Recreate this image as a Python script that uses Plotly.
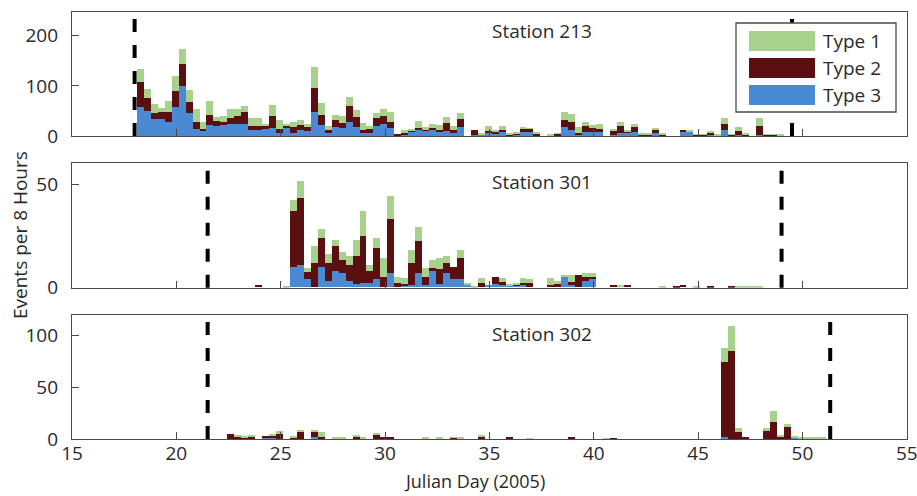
import plotly.graph_objects as go
from plotly.subplots import make_subplots

# ---------------- data (events per 8-hour bin) ----------------
BIN_START = 18.11      # left edge of first 8-hour bin (Julian day)
BIN_WIDTH = 1 / 3      # 8 hours

type_names = ["Type 1", "Type 2", "Type 3"]
type_colors = ["#a9d18e", "#5a1010", "#4a8ad4"]

station_names = ["Station 213", "Station 301", "Station 302"]

s213_type1 = [26, 18, 19, 8, 22, 31, 30, 25, 27, 15, 28, 8, 11, 18, 14, 13, 16, 16, 4, 22,
              18, 1, 10, 10, 6, 42, 24, 9, 10, 14, 18, 15, 13, 6, 10, 14, 19, 0, 7, 2,
              14, 5, 9, 9, 12, 7, 12, 0, 0, 2, 10, 5, 7, 2, 3, 2, 1, 2, 0, 1,
              1, 16, 16, 12, 8, 7, 10, 0, 1, 7, 3, 7, 2, 1, 3, 2, 0, 0, 0, 1,
              1, 1, 3, 1, 11, 1, 7, 2, 0, 16, 1, 1, 1]
s213_type2 = [50, 26, 12, 14, 20, 32, 44, 22, 13, 4, 19, 9, 6, 11, 15, 23, 7, 7, 7, 25,
              8, 6, 12, 9, 7, 48, 19, 6, 14, 10, 32, 20, 7, 8, 16, 16, 13, 2, 3, 4,
              4, 2, 4, 4, 15, 7, 16, 0, 10, 1, 4, 3, 5, 1, 2, 8, 7, 5, 0, 1,
              3, 14, 15, 2, 12, 8, 6, 0, 9, 15, 2, 10, 1, 2, 7, 1, 0, 0, 1, 1,
              1, 1, 5, 1, 12, 1, 8, 2, 0, 18, 1, 1, 1]
s213_type3 = [57, 49, 33, 33, 28, 57, 100, 45, 14, 9, 22, 20, 22, 24, 24, 24, 12, 12, 13, 15,
              5, 15, 5, 12, 10, 47, 22, 5, 17, 15, 27, 17, 5, 5, 19, 24, 15, 0, 2, 7,
              11, 10, 11, 8, 10, 5, 17, 0, 2, 2, 5, 4, 7, 1, 2, 7, 7, 0, 0, 0,
              1, 17, 12, 3, 7, 7, 7, 0, 2, 5, 7, 7, 1, 1, 5, 1, 0, 0, 9, 8,
              1, 1, 2, 0, 12, 1, 2, 1, 0, 1, 1, 1, 0]

s301_type1 = [0] * 17 + [0, 0, 0, 0, 0.5, 5, 8.5, 2, 8, 4, 4, 3, 4, 4, 8, 12, 3, 5, 9,
              11, 3, 3, 6, 6.5, 4.5, 3.5, 5, 3, 0, 4, 0.5, 0.3, 2.6, 0, 0, 2, 0.6, 0.4, 2.6,
              2, 0, 0, 3.6, 1.4, 1, 3.5, 0, 2, 2, 0, 0, 0, 1, 0, 0, 0, 0, 0, 0.5,
              0, 0, 0, 0, 0.5, 0, 0, 0, 0, 0, 0.5, 0.5, 0.5, 0.5]
s301_type2 = [0] * 17 + [1, 0, 0, 0, 0, 27, 32, 3.4, 12, 14, 9, 12, 6, 8, 13.4, 23, 6, 15, 5,
              26, 2, 0.6, 10.7, 15.5, 4, 1.5, 7.4, 5, 6, 10, 0.2, 0, 2, 0, 3.4, 1.2, 0, 0.6, 1,
              2, 0, 0, 1, 1.6, 0, 1.2, 6, 1.7, 1, 0, 0, 1, 0, 1, 0, 0, 0, 0, 0,
              0, 0.5, 1.2, 0, 0, 0, 0.5, 0, 0, 0.5, 0, 0, 0, 0]
s301_type3 = [0] * 17 + [0, 0, 0, 0, 0, 10, 11, 4, 0, 10, 3, 8, 7, 3, 1.6, 2, 2, 4, 0,
              7, 0, 1, 1.3, 7, 1, 8, 1.6, 7, 4, 4, 1.3, 0, 0, 1, 1.6, 1.3, 1, 1, 1,
              0, 0, 0, 0, 0, 5, 1.3, 0, 3.3, 4, 0, 0, 0, 0, 0, 0, 0, 0, 0, 0,
              0, 0, 0, 0, 0, 0, 0, 0, 0, 0, 0, 0, 0, 0]

s302_type1 = [0] * 13 + [0, 1, 2.5, 1, 0, 0, 1, 3, 0, 2, 0.6, 0, 2.2, 5, 0, 1.6, 1.6, 0, 1.4,
              1, 0, 2, 0, 0, 0, 0, 0, 0, 1.6, 0, 1.6, 0, 0.6, 1.6, 0, 0, 2, 0, 0,
              0, 0, 0, 0, 0.5, 0, 0, 0, 0, 0, 0, 0, 0, 0, 0, 0.5, 0, 0, 0, 0,
              0, 0, 0, 0, 0, 0, 0, 0, 0, 0, 0, 0, 13, 24, 4.5, 0, 0, 0, 3.5, 11,
              1.4, 2.5, 1.6, 1, 1, 1, 1]
s302_type2 = [0] * 13 + [5, 2, 0.5, 2, 0, 1, 1.4, 5, 0, 1, 7.4, 0, 4.5, 1.6, 0, 0, 0, 0, 2.6,
              0, 0, 4, 1.6, 1.6, 0, 0, 0, 0, 0, 0, 0, 0, 1, 0, 0, 0, 2, 0, 0,
              0, 1.6, 0, 0, 0, 0, 0, 0, 0, 0, 1, 0, 0, 0, 0, 0, 0.5, 0, 0, 0,
              0, 0, 0, 0, 0, 0, 0, 0, 0, 0, 0, 0, 73, 85, 6.5, 1, 0, 0, 7.5, 16.5,
              2.6, 12, 0, 0, 0, 0, 0]
s302_type3 = [0] * 13 + [0, 0, 0, 0, 0, 1.6, 1.6, 0, 0, 0, 0, 0, 2, 0, 0, 0, 0, 0, 0,
              0, 0, 0, 0, 0, 0, 0, 0, 0, 0, 0, 0, 0, 0, 0, 0, 0, 0, 0, 0,
              0, 0, 0, 0, 0, 0, 0, 0, 0, 0, 0, 0, 0, 0, 0, 0, 0, 0, 0, 0,
              0, 0, 0, 0, 0, 0, 0, 0, 0, 0, 0, 0, 1.6, 0, 0, 0, 0, 0, 0, 0,
              0, 0, 1, 0, 0, 0, 0]

# deployment window per station (Julian day, start / end) -> dashed lines
deploy_start = [18.0, 21.5, 21.5]
deploy_end = [49.5, 49.0, 51.33]

y_max = [247, 60, 120]
y_ticks = [[0, 100, 200], [0, 50], [0, 50, 100]]
x_ticks = [15, 20, 25, 30, 35, 40, 45, 50, 55]

station_data = [
    [s213_type1, s213_type2, s213_type3],
    [s301_type1, s301_type2, s301_type3],
    [s302_type1, s302_type2, s302_type3],
]

# ---------------- figure ----------------
W, H = 917, 496
ML, MR, MT, MB = 72, 10, 12, 57
PW, PH = W - ML - MR, H - MT - MB


def px_x(p):
    return (p - ML) / PW


def px_y(p):
    return (H - MB - p) / PH


def clamp(v):
    return min(1.0, max(0.0, v))


FONT = "Open Sans"
TXT = "#2a2a2a"
AX = "#4a4a4a"

fig = make_subplots(rows=3, cols=1)

domains = [[clamp(px_y(136)), clamp(px_y(12.3))],
           [clamp(px_y(287.7)), clamp(px_y(163.3))],
           [clamp(px_y(439.3)), clamp(px_y(315))]]

# stack order bottom->top: Type 3, Type 2, Type 1
for r, series in enumerate(station_data, start=1):
    for ti in [2, 1, 0]:
        vals = series[ti]
        xs = [BIN_START + (i + 0.5) * BIN_WIDTH for i in range(len(vals))]
        fig.add_trace(go.Bar(x=xs, y=vals, width=BIN_WIDTH, name=type_names[ti],
                             marker=dict(color=type_colors[ti], line=dict(width=0)),
                             showlegend=False, hoverinfo="skip"), row=r, col=1)

fig.update_layout(barmode="stack", bargap=0, width=W, height=H,
                  margin=dict(l=ML, r=MR, t=MT, b=MB, autoexpand=False),
                  paper_bgcolor="white", plot_bgcolor="white",
                  font=dict(family=FONT, size=19, color=TXT), showlegend=False)

for r in range(1, 4):
    xa = "xaxis" if r == 1 else f"xaxis{r}"
    ya = "yaxis" if r == 1 else f"yaxis{r}"
    fig.layout[xa].update(range=[15, 55.01], tickvals=x_ticks, ticks="inside", ticklen=7,
                          tickwidth=1.2, tickcolor=AX, showline=True, linecolor=AX,
                          linewidth=1.4, mirror=True, showgrid=False, zeroline=False,
                          showticklabels=(r == 3), ticklabelstandoff=-3,
                          ticklabeloverflow="allow", automargin=False,
                          tickfont=dict(size=19, color=TXT))
    fig.layout[ya].update(range=[0, y_max[r - 1]], tickvals=y_ticks[r - 1], ticks="inside",
                          ticklen=7, tickwidth=1.2, tickcolor=AX, showline=True,
                          linecolor=AX, linewidth=1.4, mirror=True, showgrid=False,
                          zeroline=False, domain=domains[r - 1], ticklabelstandoff=9,
                          automargin=False, tickfont=dict(size=19, color=TXT))

shapes = []
annotations = []
for r in range(1, 4):
    xr = "x" if r == 1 else f"x{r}"
    yr = "y domain" if r == 1 else f"y{r} domain"
    for xv in (deploy_start[r - 1], deploy_end[r - 1]):
        shapes.append(dict(type="line", xref=xr, yref=yr, x0=xv, x1=xv, y0=0, y1=1,
                           line=dict(color="black", width=4, dash="13px,13px"),
                           layer="above"))
    annotations.append(dict(text=station_names[r - 1], xref=xr, yref=yr, x=37.5, y=0.85,
                            showarrow=False, xanchor="center", yanchor="middle",
                            font=dict(size=19, color=TXT)))

# legend box (in the top panel)
shapes.append(dict(type="rect", xref="paper", yref="paper", x0=px_x(736), x1=px_x(896),
                   y0=px_y(112), y1=px_y(23), fillcolor="white",
                   line=dict(color=AX, width=1.3), layer="above"))
for i, (nm, col) in enumerate(zip(type_names, type_colors)):
    cy = 41 + 27 * i
    shapes.append(dict(type="rect", xref="paper", yref="paper", x0=px_x(749), x1=px_x(815),
                       y0=px_y(cy + 10), y1=px_y(cy - 10), fillcolor=col,
                       line=dict(width=0), layer="above"))
    annotations.append(dict(text=nm, xref="paper", yref="paper", x=px_x(821), y=px_y(cy),
                            showarrow=False, xanchor="left", yanchor="middle",
                            font=dict(size=19, color=TXT)))

annotations.append(dict(text="Events per 8 Hours", xref="paper", yref="paper",
                        x=px_x(20), y=px_y(235), textangle=-90, showarrow=False,
                        xanchor="center", yanchor="middle", font=dict(size=19, color=TXT)))
annotations.append(dict(text="Julian Day (2005)", xref="paper", yref="paper",
                        x=px_x(474), y=px_y(481), showarrow=False,
                        xanchor="center", yanchor="middle", font=dict(size=18, color=TXT)))

fig.update_layout(shapes=shapes, annotations=annotations)
fig.write_html("out.html")
